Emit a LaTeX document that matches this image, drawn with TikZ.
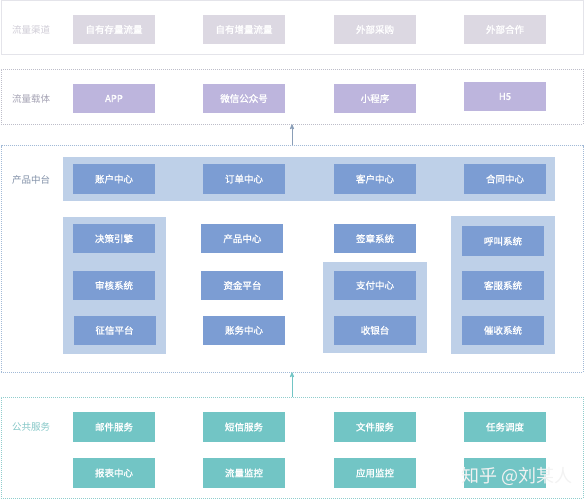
\documentclass[tikz,border=0pt]{standalone}
\usepackage{fontspec}
\newfontfamily\cjk{Noto Sans CJK SC}
\newfontfamily\cjkb[FakeBold=1.2]{Noto Sans CJK SC}
\usepackage{tikz}
\usetikzlibrary{positioning}
\usetikzlibrary{arrows}
\usetikzlibrary{math}

\definecolor{chanBox}{HTML}{DCD8E2}
\definecolor{chanLine}{HTML}{E4E4EA}
\definecolor{chanText}{HTML}{CFCCD6}
\definecolor{carBox}{HTML}{BDB5DD}
\definecolor{carLine}{HTML}{BDBDC9}
\definecolor{carText}{HTML}{A5A3B4}
\definecolor{prodBox}{HTML}{7C9DD3}
\definecolor{prodPanel}{HTML}{BED0E8}
\definecolor{prodLine}{HTML}{A2BAD7}
\definecolor{prodText}{HTML}{7F8EA6}
\definecolor{pubBox}{HTML}{72C5C5}
\definecolor{pubLine}{HTML}{90CDCD}
\definecolor{pubText}{HTML}{85C7C7}

\tikzset{
  layer/.style={draw=#1, line width=0.6pt, dash pattern=on 1pt off 1pt,
    minimum width=582pt, inner sep=0pt},
  unit/.style={fill=#1, text=white, minimum width=82pt, minimum height=29.5pt,
    inner sep=0pt, font=\cjkb\fontsize{9.5}{11}\selectfont},
  panel/.style={fill=prodPanel, inner sep=0pt},
  tag/.style={text=#1, anchor=west, inner sep=0pt, font=\cjk\fontsize{9.5}{11}\selectfont},
  upArrow/.style={draw=#1, line width=0.8pt, ->, >=stealth'},
}

\begin{document}
\begin{tikzpicture}[x=1pt, y=-1pt]
      \tikzmath{
        \cA = 114;
        \cB = 244;
        \cC = 375;
        \cD = 505;
        \lx = 12;
      }
      \useasboundingbox (0,0) rectangle (584,500);

      % layers
      \node[layer=chanLine, solid, minimum height=53.5pt] (chan) at (292,27.3) {};
      \node[layer=carLine, minimum height=55pt] (carrier) at (292,96.5) {};
      \node[layer=prodLine, minimum height=226.3pt] (prod) at (292,258.8) {};
      \node[layer=pubLine, minimum height=101pt] (pub) at (292,447.5) {};

      \draw[upArrow=prodLine!85!black] (prod.north) -- (carrier.south);
      \draw[upArrow=pubBox] (pub.north) -- (prod.south);

      % traffic channels
      \node[tag=chanText] (chanTag) at (\lx,29.5) {流量渠道};
      \node[unit=chanBox] (own1) at (\cA,29.5) {自有存量流量};
      \node[unit=chanBox] (own2) at (\cB,29.5) {自有增量流量};
      \node[unit=chanBox] (buy) at (\cC,29.5) {外部采购};
      \node[unit=chanBox] (coop) at (\cD,29.5) {外部合作};

      % carriers
      \node[tag=carText] (carTag) at (\lx,98.5) {流量载体};
      \node[unit=carBox] (app) at (\cA,98.5) {APP};
      \node[unit=carBox] (wx) at (\cB,98.5) {微信公众号};
      \node[unit=carBox] (mini) at (\cC,98.5) {小程序};
      \node[unit=carBox] (hfive) at (\cD,96.5) {H5};

      % product platform
      \node[tag=prodText] (prodTag) at (\lx,180) {产品中台};
      \node[panel, minimum width=492pt, minimum height=44pt] (band) at (309,179) {};
      \node[panel, minimum width=103.6pt, minimum height=137.6pt] (riskPanel) at (114.5,285.5) {};
      \node[panel, minimum width=104pt, minimum height=91.6pt] (payPanel) at (374.7,307.5) {};
      \node[panel, minimum width=104pt, minimum height=138.3pt] (callPanel) at (503,285.2) {};

      \node[unit=prodBox] (acct) at (\cA,179) {账户中心};
      \node[unit=prodBox] (order) at (\cB,179) {订单中心};
      \node[unit=prodBox] (cust) at (\cC,179) {客户中心};
      \node[unit=prodBox] (contract) at (\cD,179) {合同中心};

      \node[unit=prodBox] (engine) at (\cA,238.7) {决策引擎};
      \node[unit=prodBox] (audit) at (\cA,285.5) {审核系统};
      \node[unit=prodBox] (credit) at (\cA+0.5,330.3) {征信平台};

      \node[unit=prodBox] (product) at (242.4,238.7) {产品中心};
      \node[unit=prodBox] (fund) at (242.4,285.5) {资金平台};
      \node[unit=prodBox] (ledger) at (\cB,330.3) {账务中心};

      \node[unit=prodBox] (sign) at (\cC,238.7) {签章系统};
      \node[unit=prodBox] (pay) at (\cC,285.3) {支付中心};
      \node[unit=prodBox] (cashier) at (\cC,330.3) {收银台};

      \node[unit=prodBox] (call) at (503,241.2) {呼叫系统};
      \node[unit=prodBox] (service) at (503,285.5) {客服系统};
      \node[unit=prodBox] (collect) at (503,330.3) {催收系统};

      % public services
      \node[tag=pubText] (pubTag) at (\lx,427) {公共服务};
      \node[unit=pubBox] (mail) at (\cA,427) {邮件服务};
      \node[unit=pubBox] (sms) at (\cB,427) {短信服务};
      \node[unit=pubBox] (file) at (\cC,427) {文件服务};
      \node[unit=pubBox] (task) at (\cD,427) {任务调度};

      \node[unit=pubBox] (report) at (\cA,473) {报表中心};
      \node[unit=pubBox] (flow) at (\cB,473) {流量监控};
      \node[unit=pubBox] (appmon) at (\cC,473) {应用监控};
      \node[unit=pubBox] (hidden) at (\cD,473) {};

      \node[text=gray!10, anchor=west, inner sep=0pt,
        font=\cjk\fontsize{18}{20}\selectfont] (mark) at (461,476.5) {知乎 @刘某人};
    \end{tikzpicture}
\end{document}
